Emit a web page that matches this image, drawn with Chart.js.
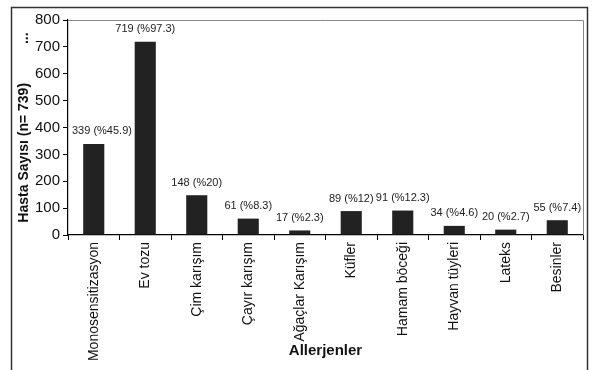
<!DOCTYPE html>
<html>
<head>
<meta charset="utf-8">
<script src="https://cdn.jsdelivr.net/npm/chart.js@4"></script>
<style>
  html, body { margin: 0; padding: 0; background: #fff; }
  #wrap { width: 595px; height: 370px; }
</style>
</head>
<body>
<div id="wrap"><canvas id="chart" width="595" height="370"></canvas></div>
<script>
// allergen groups and patient counts
const categories = ["Monosensitizasyon", "Ev tozu", "Çim karışım", "Çayır karışım", "Ağaçlar Karışım",
  "Küfler", "Hamam böceği", "Hayvan tüyleri", "Lateks", "Besinler"];
const counts = [339, 719, 148, 61, 17, 89, 91, 34, 20, 55];
const percents = ["45.9", "97.3", "20", "8.3", "2.3", "12", "12.3", "4.6", "2.7", "7.4"];
const yTicks = [0, 100, 200, 300, 400, 500, 600, 700, 800];

const FONT = "'Liberation Sans', Arial, sans-serif";

// frame round the whole figure + grey box on top/right of plot
const framePlugin = {
  id: "frame",
  afterDraw(chart) {
    const { ctx, chartArea } = chart;
    ctx.save();
    ctx.strokeStyle = "#333";
    ctx.lineWidth = 1.5;
    ctx.strokeRect(11.5, 7.5, 576, 372);
    ctx.strokeStyle = "#888";
    ctx.lineWidth = 1;
    ctx.beginPath();
    ctx.moveTo(chartArea.left, chartArea.top + 0.5);
    ctx.lineTo(chartArea.right + 0.5, chartArea.top + 0.5);
    ctx.lineTo(chartArea.right + 0.5, chartArea.bottom);
    ctx.stroke();
    ctx.restore();
  }
};

// "n (%p)" labels above the bars
const valueLabels = {
  id: "valueLabels",
  afterDatasetsDraw(chart) {
    const { ctx, chartArea } = chart;
    const meta = chart.getDatasetMeta(0);
    ctx.save();
    ctx.font = "11px " + FONT;
    ctx.fillStyle = "#222";
    ctx.textAlign = "left";
    ctx.textBaseline = "bottom";
    meta.data.forEach((bar, i) => {
      const txt = counts[i] + " (%" + percents[i] + ")";
      const w = ctx.measureText(txt).width;
      // keep the label clear of the y axis
      const x = Math.max(bar.x - w / 2, chartArea.left + 4);
      ctx.fillText(txt, x, bar.y - 7);
    });
    ctx.restore();
  }
};

new Chart(document.getElementById("chart"), {
  type: "bar",
  data: {
    labels: categories,
    datasets: [{
      data: counts,
      backgroundColor: "#222",
      borderWidth: 0,
      barPercentage: 0.41,
      categoryPercentage: 1.0,
    }],
  },
  options: {
    responsive: false,
    animation: false,
    devicePixelRatio: 1,
    layout: { padding: { left: 16, top: 20, right: 12, bottom: 10 } },
    plugins: {
      legend: { display: false },
      tooltip: { enabled: false },
    },
    scales: {
      x: {
        grid: { offset: true, drawOnChartArea: false, tickLength: 5, color: "#000" },
        border: { color: "#000", width: 1.2 },
        ticks: {
          maxRotation: 90, minRotation: 90, autoSkip: false,
          color: "#111", padding: 2,
          font: { family: FONT, size: 14 },
        },
        title: {
          display: true, text: "Allerjenler", color: "#111",
          font: { family: FONT, size: 15, weight: "bold" },
          padding: { top: 2, bottom: 0 },
        },
        afterFit(scale) { scale.height = 125; },
      },
      y: {
        min: 0, max: 800,
        afterBuildTicks(scale) { scale.ticks = yTicks.map(v => ({ value: v })); },
        grid: { drawOnChartArea: false, tickLength: 5, color: "#000" },
        border: { color: "#000", width: 1.2 },
        ticks: {
          color: "#111", padding: 3,
          font: { family: FONT, size: 15 },
        },
        title: {
          display: true, text: "Hasta Sayısı (n= 739)          ...", color: "#111",
          font: { family: FONT, size: 14, weight: "bold" },
          padding: { top: 0, bottom: 2 },
        },
        afterFit(scale) { scale.width = 52; },
      },
    },
  },
  plugins: [framePlugin, valueLabels],
});
</script>
</body>
</html>
